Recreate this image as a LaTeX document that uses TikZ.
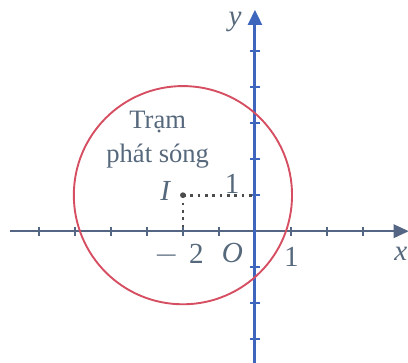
\documentclass[tikz,border=0pt]{standalone}
\usepackage{fontspec}
\setmainfont{Liberation Serif}
\usetikzlibrary{arrows.meta, positioning}
\definecolor{yaxis}{RGB}{62,102,188}
\definecolor{xaxis}{RGB}{84,102,132}
\definecolor{ring}{RGB}{214,78,98}
\definecolor{lbl}{RGB}{86,104,124}

\begin{document}
\begin{tikzpicture}[
  every node/.style={font=\fontsize{21}{24}\selectfont, text=lbl},
  num/.style={font=\fontsize{23}{24}\selectfont, inner sep=0pt},
  ax/.style={-{Triangle[length=0.42cm, width=0.38cm]}},
  tick/.style={line width=1pt},
  guide/.style={dash pattern=on 2.2pt off 3.6pt, line width=2.2pt, black!70},
]
\useasboundingbox (-7.08,-3.64) rectangle (4.25,6.42);

% axes
\coordinate (xs) at (-6.8,0);
\coordinate (xe) at (4.27,0);
\coordinate (ys) at (0,-3.7);
\coordinate (ye) at (0,6.15);
\draw[ax, xaxis, line width=1.2pt] (xs) -- (xe);
\foreach \i in {-6,...,-1,1,2,3}
  \draw[tick, xaxis] (\i,-0.12) -- (\i,0.12);
\draw[ax, yaxis, line width=2.4pt] (ys) -- (ye);
\foreach \j in {-3,-2,-1,1,2,...,5}
  \draw[tick, yaxis, line width=1.4pt] (-0.15,\j) -- (0.15,\j);

% station and its range
\coordinate (I) at (-2,1);
\coordinate (Iy) at (0,1);
\coordinate (Ix) at (-2,0);
\draw[ring, line width=1.5pt] (I) circle (3.03);
\draw[guide] (I) -- (Iy);
\draw[guide] (I) -- (Ix);
\fill[black!70] (I) circle (0.08);

% labels
\node[align=center, font=\fontsize{21}{27}\selectfont] (tram) at (-2.7,2.55) {Trạm\\phát sóng};
\node[num, font=\fontsize{23}{24}\itshape] (lI) at (-2.49,1.12) {I};
\node[num] (one) at (-0.63,1.3) {1};
\node[num] (mtwo) at (-2.1,-0.67) {$-$\,\,2};
\node[num, font=\fontsize{23}{24}\itshape] (lO) at (-0.63,-0.6) {O};
\node[num] (onex) at (1.01,-0.72) {1};
\node[num, font=\fontsize{23}{24}\itshape] (lx) at (4.05,-0.62) {x};
\node[num, font=\fontsize{23}{24}\itshape] (ly) at (-0.55,5.82) {y};
\end{tikzpicture}
\end{document}
